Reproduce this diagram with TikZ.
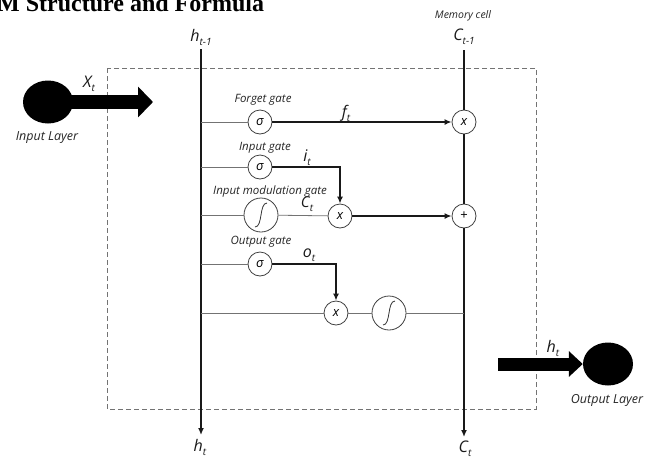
\documentclass[tikz,border=0pt]{standalone}
\usepackage{fontspec}
\newfontfamily\os{Open Sans}
\newfontfamily\tms{Liberation Serif}
\usetikzlibrary{arrows.meta,shapes.geometric}
\newcommand\sbs[1]{\raisebox{-0.25em}{\fontsize{10}{10}\selectfont #1}}
\begin{document}
\begin{tikzpicture}[x=1pt,y=-1pt,
 gate/.style={circle,draw=black!75,line width=0.8pt,minimum size=24pt,inner sep=0pt,fill=white,font=\os\itshape\fontsize{13}{13}\selectfont},
 tanhc/.style={circle,draw=black!75,line width=0.8pt,minimum size=34pt,inner sep=0pt,fill=white,
   path picture={\draw[black!80,line width=0.8pt]
     ([shift={(-6,12)}]path picture bounding box.center) .. controls ([shift={(2,12)}]path picture bounding box.center)
     and ([shift={(-2,-12)}]path picture bounding box.center) .. ([shift={(6,-12)}]path picture bounding box.center);}},
 lbl/.style={font=\os\itshape\fontsize{11.5}{13}\selectfont,inner sep=0pt,text=black!85},
 var/.style={font=\os\itshape\fontsize{16}{16}\selectfont,inner sep=0pt,text=black!90},
 thinline/.style={draw=black!55,line width=0.8pt},
 thickline/.style={draw=black!90,line width=1.4pt},
 arr/.style={-{Latex[length=7pt,width=6pt]}},
 layer/.style={ellipse,fill=black,minimum width=50pt,minimum height=43pt,inner sep=0pt},
]
\useasboundingbox (0,0) rectangle (648,459);
\fill[white] (0,0) rectangle (648,459);

% title (cropped)
\node[anchor=base west,inner sep=0pt,font=\tms\bfseries\fontsize{24}{24}\selectfont] (title) at (-3,11.5) {M Structure and Formula};

% dashed cell box
\draw[black!55,line width=0.9pt,dash pattern=on 5pt off 3pt] (107,68) rectangle (536,409);

% main vertical lines
\coordinate (htop) at (201,49);
\coordinate (hbot) at (201,435);
\coordinate (ctop) at (464,50);
\coordinate (cbot) at (464,437);
\draw[thickline,arr] (htop) -- (hbot);

\node[var] (hprev) at (201,37) {h\sbs{t-1}};
\node[var] (cprev) at (464,37) {C\sbs{t-1}};
\node[lbl,font=\os\itshape\fontsize{10.5}{12}\selectfont] (memcell) at (463,16) {Memory cell};
\node[var] (hnext) at (200,447) {h\sbs{t}};
\node[var] (cnext) at (465,449) {C\sbs{t}};

% row coordinates on h line
\coordinate (r1) at (201,122);
\coordinate (r2) at (201,167);
\coordinate (r3) at (201,215);
\coordinate (r4) at (201,264);
\coordinate (r5) at (201,313);
\coordinate (r5e) at (464,313);
\coordinate (turn1) at (340,167);
\coordinate (turn2) at (336,264);

% nodes
\node[gate] (sf) at (260,122) {σ};
\node[gate] (si) at (260,167) {σ};
\node[tanhc] (tm) at (261,215) {};
\node[gate] (so) at (260,264) {σ};
\node[gate] (fx) at (464,122) {x};
\node[gate] (ix) at (340,216) {x};
\node[gate,font=\os\fontsize{13}{13}\selectfont] (plus) at (464,216) {+};
\node[gate] (ox) at (336,313) {x};
\node[tanhc] (th2) at (389,313) {};

% C line
\draw[thickline] (ctop) -- (fx);
\draw[thickline] (fx) -- (plus);
\draw[thickline,arr] (plus) -- (cbot);

% forget gate
\draw[thinline] (r1) -- (sf);
\draw[thickline,arr] (sf) -- (fx);
% input gate
\draw[thinline] (r2) -- (si);
\draw[thickline,arr] (si) -- (turn1) -- (ix);
% modulation
\draw[thinline] (r3) -- (tm);
\draw[thinline] (tm) -- (ix);
\draw[thickline,arr] (ix) -- (plus);
% output gate
\draw[thinline] (r4) -- (so);
\draw[thickline,arr] (so) -- (turn2) -- (ox);
\draw[thinline] (r5) -- (ox);
\draw[thinline] (ox) -- (th2);
\draw[thinline] (th2) -- (r5e);

% gate labels
\node[lbl] (lforget) at (263,100) {Forget gate};
\node[lbl] (linput) at (265,148) {Input gate};
\node[lbl] (lmod) at (270,192) {Input modulation gate};
\node[lbl] (lout) at (261,242) {Output gate};
\node[var] (ft) at (346,113) {f\sbs{t}};
\node[var] (it) at (307,158) {i\sbs{t}};
\node[var,font=\os\itshape\fontsize{15}{15}\selectfont] (ct) at (307,204) {C\sbs{t}};
\node[var] (ot) at (309,255) {o\sbs{t}};

% input layer
\node[layer] (inl) at (48,102) {};
\coordinate (xtip) at (153,102);
\draw[line width=14pt,-{Triangle[length=15pt,width=30pt]}] (inl.center) -- (xtip);
\node[var] (xt) at (89,84) {X\sbs{t}};
\node[lbl,font=\os\itshape\fontsize{12.5}{14}\selectfont] (linl) at (47,138) {Input Layer};

% output layer
\node[layer] (outl) at (608,364) {};
\coordinate (hstart) at (498,364);
\draw[line width=13pt,-{Triangle[length=14pt,width=25pt]}] (hstart) -- (outl.west);
\node[var] (ht) at (553,348) {h\sbs{t}};
\node[lbl,font=\os\itshape\fontsize{12.5}{14}\selectfont] (loutl) at (607,400) {Output Layer};
\end{tikzpicture}
\end{document}
